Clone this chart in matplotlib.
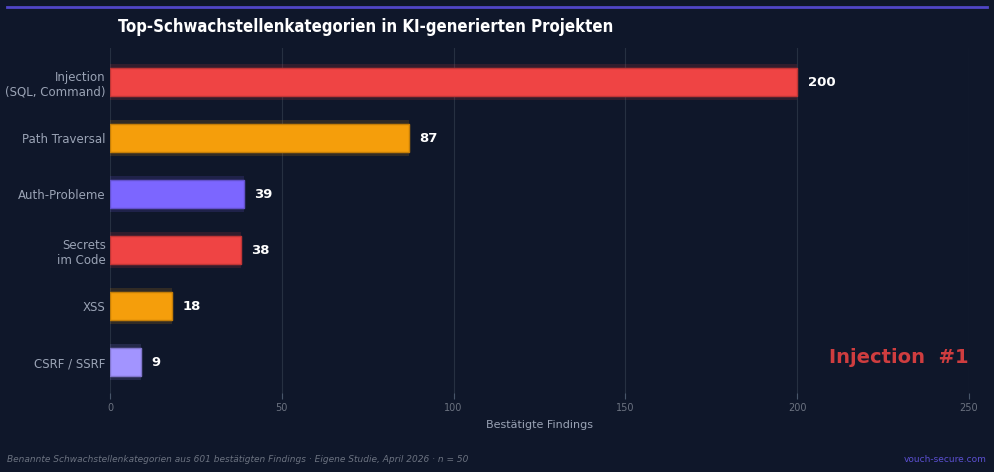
import matplotlib
matplotlib.use("Agg")
import matplotlib.pyplot as plt
from matplotlib.lines import Line2D

# Daten
categories = ["Injection\n(SQL, Command)", "Path Traversal", "Auth-Probleme",
              "Secrets\nim Code", "XSS", "CSRF / SSRF"]
findings = [200, 87, 39, 38, 18, 9]
colors = ["#ef4444", "#f59e0b", "#7c66ff", "#ef4444", "#f59e0b", "#a294ff"]
xticks = [0, 50, 100, 150, 200, 250]

BG = "#0f172a"

fig = plt.figure(figsize=(9.94, 4.72), dpi=100, facecolor=BG)
ax = fig.add_axes([110 / 994, 1 - 399 / 472, 859 / 994, 351 / 472], facecolor=BG)

pos = list(range(len(categories)))

# Glow hinter den Balken
ax.barh(pos, findings, height=0.64, color=colors, alpha=0.15, zorder=2)
ax.barh(pos, findings, height=0.5, color=colors, edgecolor=colors,
        linewidth=1, zorder=3)
for p, v in zip(pos, findings):
    ax.barh(p, v, height=0.5, color="none", edgecolor="#000000", alpha=0.2,
            linewidth=1, zorder=4)
    ax.text(v + 3.0, p, str(v), va="center", ha="left", color="white",
            fontsize=9.5, fontweight="bold", zorder=5)

ax.set_xlim(0, 250)
ax.set_ylim(5.66, -0.61)
ax.set_yticks(pos)
ax.set_yticklabels(categories, color="#9aa3b5", fontsize=8.5)
ax.set_xticks(xticks)
ax.set_xticklabels([str(t) for t in xticks], color="#6b7280", fontsize=7)
ax.tick_params(axis="y", length=0, pad=3)
ax.tick_params(axis="x", direction="in", length=4, color="#475569", pad=3)
for s in ax.spines.values():
    s.set_visible(False)
ax.grid(axis="x", color="#263041", linewidth=0.8, zorder=0)
ax.set_axisbelow(True)
ax.set_xlabel("Bestätigte Findings", color="#9aa3b5", fontsize=8, labelpad=5)

ax.text(1.0, 0.117, "Injection  #1", transform=ax.transAxes, ha="right", va="center",
        color="#cf3d3f", fontsize=14, fontweight="bold")

fig.text(118 / 994, 1 - 27 / 472, "Top-Schwachstellenkategorien in KI-generierten Projekten",
         color="white", fontsize=12, fontweight="bold", fontstretch="condensed",
         ha="left", va="center")

fig.add_artist(Line2D([7 / 994, 987 / 994], [1 - 7 / 472, 1 - 7 / 472],
                      color="#5046c8", linewidth=2, transform=fig.transFigure))

fig.text(7 / 994, 1 - 460 / 472,
         "Benannte Schwachstellenkategorien aus 601 bestätigten Findings · Eigene Studie, April 2026 · n = 50",
         color="#6b7280", fontsize=6.5, style="italic", ha="left", va="center")
fig.text(987 / 994, 1 - 460 / 472, "vouch-secure.com", color="#5b4fd0",
         fontsize=6.5, ha="right", va="center")

fig.savefig("out.png", dpi=100, facecolor=BG)
